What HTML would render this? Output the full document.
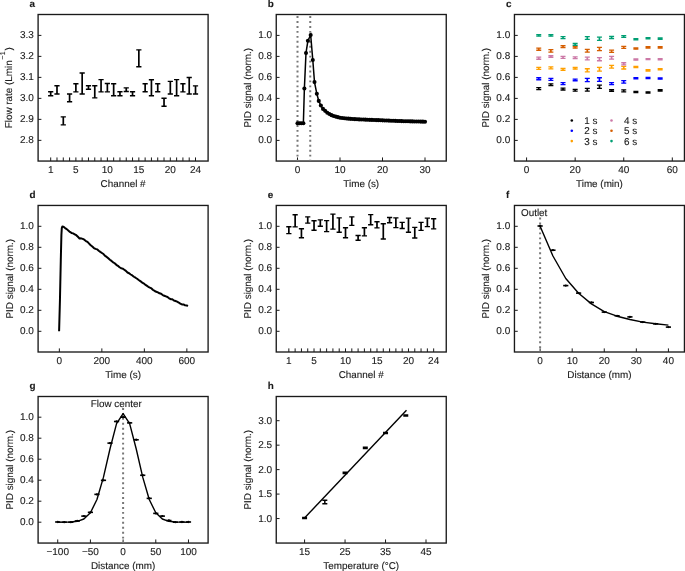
<!DOCTYPE html>
<html><head><meta charset="utf-8"><style>
html,body{margin:0;padding:0;background:#fff;}
svg{display:block;will-change:transform;}
text{font-family:"Liberation Sans",sans-serif;fill:#1a1a1a;stroke:#1a1a1a;stroke-width:0.12px;text-rendering:geometricPrecision;}
</style></head><body>
<svg width="685" height="571" viewBox="0 0 685 571">
<rect width="685" height="571" fill="#fff"/>
<rect x="38.1" y="14.5" width="170" height="146.55" fill="none" stroke="#1a1a1a" stroke-width="1.35"/>
<line x1="38.1" y1="140.35" x2="41.4" y2="140.35" stroke="#1a1a1a" stroke-width="1"/>
<text x="33.9" y="143.4" text-anchor="end" font-size="10">2.8</text>
<line x1="38.1" y1="119.36" x2="41.4" y2="119.36" stroke="#1a1a1a" stroke-width="1"/>
<text x="33.9" y="122.41" text-anchor="end" font-size="10">2.9</text>
<line x1="38.1" y1="98.37" x2="41.4" y2="98.37" stroke="#1a1a1a" stroke-width="1"/>
<text x="33.9" y="101.42" text-anchor="end" font-size="10">3.0</text>
<line x1="38.1" y1="77.38" x2="41.4" y2="77.38" stroke="#1a1a1a" stroke-width="1"/>
<text x="33.9" y="80.43" text-anchor="end" font-size="10">3.1</text>
<line x1="38.1" y1="56.39" x2="41.4" y2="56.39" stroke="#1a1a1a" stroke-width="1"/>
<text x="33.9" y="59.44" text-anchor="end" font-size="10">3.2</text>
<line x1="38.1" y1="35.4" x2="41.4" y2="35.4" stroke="#1a1a1a" stroke-width="1"/>
<text x="33.9" y="38.45" text-anchor="end" font-size="10">3.3</text>
<line x1="50.69" y1="161.05" x2="50.69" y2="157.45" stroke="#1a1a1a" stroke-width="1"/>
<line x1="56.99" y1="161.05" x2="56.99" y2="157.45" stroke="#1a1a1a" stroke-width="1"/>
<line x1="63.29" y1="161.05" x2="63.29" y2="157.45" stroke="#1a1a1a" stroke-width="1"/>
<line x1="69.58" y1="161.05" x2="69.58" y2="157.45" stroke="#1a1a1a" stroke-width="1"/>
<line x1="75.88" y1="161.05" x2="75.88" y2="157.45" stroke="#1a1a1a" stroke-width="1"/>
<line x1="82.17" y1="161.05" x2="82.17" y2="157.45" stroke="#1a1a1a" stroke-width="1"/>
<line x1="88.47" y1="161.05" x2="88.47" y2="157.45" stroke="#1a1a1a" stroke-width="1"/>
<line x1="94.77" y1="161.05" x2="94.77" y2="157.45" stroke="#1a1a1a" stroke-width="1"/>
<line x1="101.06" y1="161.05" x2="101.06" y2="157.45" stroke="#1a1a1a" stroke-width="1"/>
<line x1="107.36" y1="161.05" x2="107.36" y2="157.45" stroke="#1a1a1a" stroke-width="1"/>
<line x1="113.66" y1="161.05" x2="113.66" y2="157.45" stroke="#1a1a1a" stroke-width="1"/>
<line x1="119.95" y1="161.05" x2="119.95" y2="157.45" stroke="#1a1a1a" stroke-width="1"/>
<line x1="126.25" y1="161.05" x2="126.25" y2="157.45" stroke="#1a1a1a" stroke-width="1"/>
<line x1="132.54" y1="161.05" x2="132.54" y2="157.45" stroke="#1a1a1a" stroke-width="1"/>
<line x1="138.84" y1="161.05" x2="138.84" y2="157.45" stroke="#1a1a1a" stroke-width="1"/>
<line x1="145.14" y1="161.05" x2="145.14" y2="157.45" stroke="#1a1a1a" stroke-width="1"/>
<line x1="151.43" y1="161.05" x2="151.43" y2="157.45" stroke="#1a1a1a" stroke-width="1"/>
<line x1="157.73" y1="161.05" x2="157.73" y2="157.45" stroke="#1a1a1a" stroke-width="1"/>
<line x1="164.03" y1="161.05" x2="164.03" y2="157.45" stroke="#1a1a1a" stroke-width="1"/>
<line x1="170.32" y1="161.05" x2="170.32" y2="157.45" stroke="#1a1a1a" stroke-width="1"/>
<line x1="176.62" y1="161.05" x2="176.62" y2="157.45" stroke="#1a1a1a" stroke-width="1"/>
<line x1="182.91" y1="161.05" x2="182.91" y2="157.45" stroke="#1a1a1a" stroke-width="1"/>
<line x1="189.21" y1="161.05" x2="189.21" y2="157.45" stroke="#1a1a1a" stroke-width="1"/>
<line x1="195.51" y1="161.05" x2="195.51" y2="157.45" stroke="#1a1a1a" stroke-width="1"/>
<text x="50.69" y="172.7" text-anchor="middle" font-size="10">1</text>
<text x="75.88" y="172.7" text-anchor="middle" font-size="10">5</text>
<text x="107.36" y="172.7" text-anchor="middle" font-size="10">10</text>
<text x="138.84" y="172.7" text-anchor="middle" font-size="10">15</text>
<text x="170.32" y="172.7" text-anchor="middle" font-size="10">20</text>
<text x="195.51" y="172.7" text-anchor="middle" font-size="10">24</text>
<text x="123.1" y="187.05" text-anchor="middle" font-size="9.9">Channel #</text>
<text transform="translate(11.6,87.78) rotate(-90)" text-anchor="middle" font-size="9.9">Flow rate (Lmin<tspan font-size="7" dx="0.9" dy="-6.6">−1</tspan><tspan dx="0.9" dy="6.6">)</tspan></text>
<text x="29.6" y="7.3" font-size="9.9" font-weight="bold">a</text>
<path d="M50.69 95.8V91.7" stroke="#000" stroke-width="1.7"/>
<path d="M48.09 95.8h5.2M48.09 91.7h5.2" stroke="#000" stroke-width="1.4"/>
<path d="M56.99 94V85.7" stroke="#000" stroke-width="1.7"/>
<path d="M54.39 94h5.2M54.39 85.7h5.2" stroke="#000" stroke-width="1.4"/>
<path d="M63.29 124.9V116.9" stroke="#000" stroke-width="1.7"/>
<path d="M60.69 124.9h5.2M60.69 116.9h5.2" stroke="#000" stroke-width="1.4"/>
<path d="M69.58 101.8V94" stroke="#000" stroke-width="1.7"/>
<path d="M66.98 101.8h5.2M66.98 94h5.2" stroke="#000" stroke-width="1.4"/>
<path d="M75.88 91.9V83.8" stroke="#000" stroke-width="1.7"/>
<path d="M73.28 91.9h5.2M73.28 83.8h5.2" stroke="#000" stroke-width="1.4"/>
<path d="M82.17 94V73" stroke="#000" stroke-width="1.7"/>
<path d="M79.57 94h5.2M79.57 73h5.2" stroke="#000" stroke-width="1.4"/>
<path d="M88.47 89.2V85.7" stroke="#000" stroke-width="1.7"/>
<path d="M85.87 89.2h5.2M85.87 85.7h5.2" stroke="#000" stroke-width="1.4"/>
<path d="M94.77 97.9V85.7" stroke="#000" stroke-width="1.7"/>
<path d="M92.17 97.9h5.2M92.17 85.7h5.2" stroke="#000" stroke-width="1.4"/>
<path d="M101.06 91.9V79.6" stroke="#000" stroke-width="1.7"/>
<path d="M98.46 91.9h5.2M98.46 79.6h5.2" stroke="#000" stroke-width="1.4"/>
<path d="M107.36 91.9V83.5" stroke="#000" stroke-width="1.7"/>
<path d="M104.76 91.9h5.2M104.76 83.5h5.2" stroke="#000" stroke-width="1.4"/>
<path d="M113.66 95.8V83.8" stroke="#000" stroke-width="1.7"/>
<path d="M111.06 95.8h5.2M111.06 83.8h5.2" stroke="#000" stroke-width="1.4"/>
<path d="M119.95 95.8V91.7" stroke="#000" stroke-width="1.7"/>
<path d="M117.35 95.8h5.2M117.35 91.7h5.2" stroke="#000" stroke-width="1.4"/>
<path d="M126.25 91.5V87.9" stroke="#000" stroke-width="1.7"/>
<path d="M123.65 91.5h5.2M123.65 87.9h5.2" stroke="#000" stroke-width="1.4"/>
<path d="M132.54 95.7V91.8" stroke="#000" stroke-width="1.7"/>
<path d="M129.94 95.7h5.2M129.94 91.8h5.2" stroke="#000" stroke-width="1.4"/>
<path d="M138.84 66.8V49.9" stroke="#000" stroke-width="1.7"/>
<path d="M136.24 66.8h5.2M136.24 49.9h5.2" stroke="#000" stroke-width="1.4"/>
<path d="M145.14 91.8V83.7" stroke="#000" stroke-width="1.7"/>
<path d="M142.54 91.8h5.2M142.54 83.7h5.2" stroke="#000" stroke-width="1.4"/>
<path d="M151.43 95.7V79.8" stroke="#000" stroke-width="1.7"/>
<path d="M148.83 95.7h5.2M148.83 79.8h5.2" stroke="#000" stroke-width="1.4"/>
<path d="M157.73 91.8V83.7" stroke="#000" stroke-width="1.7"/>
<path d="M155.13 91.8h5.2M155.13 83.7h5.2" stroke="#000" stroke-width="1.4"/>
<path d="M164.03 106.3V98.2" stroke="#000" stroke-width="1.7"/>
<path d="M161.43 106.3h5.2M161.43 98.2h5.2" stroke="#000" stroke-width="1.4"/>
<path d="M170.32 94V81.4" stroke="#000" stroke-width="1.7"/>
<path d="M167.72 94h5.2M167.72 81.4h5.2" stroke="#000" stroke-width="1.4"/>
<path d="M176.62 95.8V79.6" stroke="#000" stroke-width="1.7"/>
<path d="M174.02 95.8h5.2M174.02 79.6h5.2" stroke="#000" stroke-width="1.4"/>
<path d="M182.91 91.9V83.8" stroke="#000" stroke-width="1.7"/>
<path d="M180.31 91.9h5.2M180.31 83.8h5.2" stroke="#000" stroke-width="1.4"/>
<path d="M189.21 94V77.5" stroke="#000" stroke-width="1.7"/>
<path d="M186.61 94h5.2M186.61 77.5h5.2" stroke="#000" stroke-width="1.4"/>
<path d="M195.51 94V85.9" stroke="#000" stroke-width="1.7"/>
<path d="M192.91 94h5.2M192.91 85.9h5.2" stroke="#000" stroke-width="1.4"/>
<rect x="276.25" y="14.5" width="170" height="146.55" fill="none" stroke="#1a1a1a" stroke-width="1.35"/>
<line x1="276.25" y1="140.4" x2="279.55" y2="140.4" stroke="#1a1a1a" stroke-width="1"/>
<text x="272.05" y="143.45" text-anchor="end" font-size="10">0.0</text>
<line x1="276.25" y1="119.4" x2="279.55" y2="119.4" stroke="#1a1a1a" stroke-width="1"/>
<text x="272.05" y="122.45" text-anchor="end" font-size="10">0.2</text>
<line x1="276.25" y1="98.4" x2="279.55" y2="98.4" stroke="#1a1a1a" stroke-width="1"/>
<text x="272.05" y="101.45" text-anchor="end" font-size="10">0.4</text>
<line x1="276.25" y1="77.4" x2="279.55" y2="77.4" stroke="#1a1a1a" stroke-width="1"/>
<text x="272.05" y="80.45" text-anchor="end" font-size="10">0.6</text>
<line x1="276.25" y1="56.4" x2="279.55" y2="56.4" stroke="#1a1a1a" stroke-width="1"/>
<text x="272.05" y="59.45" text-anchor="end" font-size="10">0.8</text>
<line x1="276.25" y1="35.4" x2="279.55" y2="35.4" stroke="#1a1a1a" stroke-width="1"/>
<text x="272.05" y="38.45" text-anchor="end" font-size="10">1.0</text>
<line x1="297.5" y1="161.05" x2="297.5" y2="157.45" stroke="#1a1a1a" stroke-width="1"/>
<line x1="340" y1="161.05" x2="340" y2="157.45" stroke="#1a1a1a" stroke-width="1"/>
<line x1="382.5" y1="161.05" x2="382.5" y2="157.45" stroke="#1a1a1a" stroke-width="1"/>
<line x1="425" y1="161.05" x2="425" y2="157.45" stroke="#1a1a1a" stroke-width="1"/>
<text x="297.5" y="172.7" text-anchor="middle" font-size="10">0</text>
<text x="340" y="172.7" text-anchor="middle" font-size="10">10</text>
<text x="382.5" y="172.7" text-anchor="middle" font-size="10">20</text>
<text x="425" y="172.7" text-anchor="middle" font-size="10">30</text>
<text x="361.25" y="187.05" text-anchor="middle" font-size="9.9">Time (s)</text>
<text transform="translate(251,87.78) rotate(-90)" text-anchor="middle" font-size="9.9">PID signal (norm.)</text>
<text x="267.75" y="7.3" font-size="9.9" font-weight="bold">b</text>
<line x1="297.5" y1="16.1" x2="297.5" y2="161.05" stroke="#777" stroke-width="2.0" stroke-dasharray="1.9 3.05"/>
<line x1="310.25" y1="16.1" x2="310.25" y2="161.05" stroke="#777" stroke-width="2.0" stroke-dasharray="1.9 3.05"/>
<path d="M297.5 123.18 L299.41 123.18 L301.32 123.18 L303.37 123.18 L304.38 88.53 L306 52.94 L307.91 40.76 L310.68 34.98 L312.8 59.97 L314.5 82.12 L316.84 93.78 L318.75 100.92 L320.88 105.54 L323 108.9 L325.12 110.84 L327.25 112.78 L329.38 113.96 L331.5 115.13 L333.62 116.05 L335.75 116.61 L337.88 117.16 L340 117.72 L342.12 117.96 L344.25 118.2 L346.38 118.44 L348.5 118.67 L350.62 118.85 L352.75 118.99 L354.88 119.13 L357 119.26 L359.12 119.4 L361.25 119.49 L363.38 119.57 L365.5 119.66 L367.62 119.74 L369.75 119.83 L371.88 119.92 L374 120 L376.12 120.09 L378.25 120.17 L380.38 120.26 L382.5 120.34 L384.62 120.43 L386.75 120.51 L388.88 120.6 L391 120.68 L393.12 120.77 L395.25 120.85 L397.38 120.93 L399.5 121.02 L401.62 121.1 L403.75 121.19 L405.88 121.24 L408 121.29 L410.12 121.34 L412.25 121.4 L414.38 121.45 L416.5 121.5 L418.62 121.55 L420.75 121.61 L422.88 121.66 L425 121.71" fill="none" stroke="#000" stroke-width="1.5"/>
<circle cx="297.5" cy="123.18" r="2.05"/>
<circle cx="299.41" cy="123.18" r="2.05"/>
<circle cx="301.32" cy="123.18" r="2.05"/>
<circle cx="303.37" cy="123.18" r="2.05"/>
<circle cx="304.38" cy="88.53" r="2.05"/>
<circle cx="306" cy="52.94" r="2.05"/>
<circle cx="307.91" cy="40.76" r="2.05"/>
<circle cx="310.68" cy="34.98" r="2.05"/>
<circle cx="312.8" cy="59.97" r="2.05"/>
<circle cx="314.5" cy="82.12" r="2.05"/>
<circle cx="316.84" cy="93.78" r="2.05"/>
<circle cx="318.75" cy="100.92" r="2.05"/>
<circle cx="320.88" cy="105.54" r="2.05"/>
<circle cx="323" cy="108.9" r="2.05"/>
<circle cx="325.12" cy="110.84" r="2.05"/>
<circle cx="327.25" cy="112.78" r="2.05"/>
<circle cx="329.38" cy="113.96" r="2.05"/>
<circle cx="331.5" cy="115.13" r="2.05"/>
<circle cx="333.62" cy="116.05" r="2.05"/>
<circle cx="335.75" cy="116.61" r="2.05"/>
<circle cx="337.88" cy="117.16" r="2.05"/>
<circle cx="340" cy="117.72" r="2.05"/>
<circle cx="342.12" cy="117.96" r="2.05"/>
<circle cx="344.25" cy="118.2" r="2.05"/>
<circle cx="346.38" cy="118.44" r="2.05"/>
<circle cx="348.5" cy="118.67" r="2.05"/>
<circle cx="350.62" cy="118.85" r="2.05"/>
<circle cx="352.75" cy="118.99" r="2.05"/>
<circle cx="354.88" cy="119.13" r="2.05"/>
<circle cx="357" cy="119.26" r="2.05"/>
<circle cx="359.12" cy="119.4" r="2.05"/>
<circle cx="361.25" cy="119.49" r="2.05"/>
<circle cx="363.38" cy="119.57" r="2.05"/>
<circle cx="365.5" cy="119.66" r="2.05"/>
<circle cx="367.62" cy="119.74" r="2.05"/>
<circle cx="369.75" cy="119.83" r="2.05"/>
<circle cx="371.88" cy="119.92" r="2.05"/>
<circle cx="374" cy="120" r="2.05"/>
<circle cx="376.12" cy="120.09" r="2.05"/>
<circle cx="378.25" cy="120.17" r="2.05"/>
<circle cx="380.38" cy="120.26" r="2.05"/>
<circle cx="382.5" cy="120.34" r="2.05"/>
<circle cx="384.62" cy="120.43" r="2.05"/>
<circle cx="386.75" cy="120.51" r="2.05"/>
<circle cx="388.88" cy="120.6" r="2.05"/>
<circle cx="391" cy="120.68" r="2.05"/>
<circle cx="393.12" cy="120.77" r="2.05"/>
<circle cx="395.25" cy="120.85" r="2.05"/>
<circle cx="397.38" cy="120.93" r="2.05"/>
<circle cx="399.5" cy="121.02" r="2.05"/>
<circle cx="401.62" cy="121.1" r="2.05"/>
<circle cx="403.75" cy="121.19" r="2.05"/>
<circle cx="405.88" cy="121.24" r="2.05"/>
<circle cx="408" cy="121.29" r="2.05"/>
<circle cx="410.12" cy="121.34" r="2.05"/>
<circle cx="412.25" cy="121.4" r="2.05"/>
<circle cx="414.38" cy="121.45" r="2.05"/>
<circle cx="416.5" cy="121.5" r="2.05"/>
<circle cx="418.62" cy="121.55" r="2.05"/>
<circle cx="420.75" cy="121.61" r="2.05"/>
<circle cx="422.88" cy="121.66" r="2.05"/>
<circle cx="425" cy="121.71" r="2.05"/>
<rect x="514.45" y="14.5" width="170" height="146.55" fill="none" stroke="#1a1a1a" stroke-width="1.35"/>
<line x1="514.45" y1="140.4" x2="517.75" y2="140.4" stroke="#1a1a1a" stroke-width="1"/>
<text x="510.25" y="143.45" text-anchor="end" font-size="10">0.0</text>
<line x1="514.45" y1="119.4" x2="517.75" y2="119.4" stroke="#1a1a1a" stroke-width="1"/>
<text x="510.25" y="122.45" text-anchor="end" font-size="10">0.2</text>
<line x1="514.45" y1="98.4" x2="517.75" y2="98.4" stroke="#1a1a1a" stroke-width="1"/>
<text x="510.25" y="101.45" text-anchor="end" font-size="10">0.4</text>
<line x1="514.45" y1="77.4" x2="517.75" y2="77.4" stroke="#1a1a1a" stroke-width="1"/>
<text x="510.25" y="80.45" text-anchor="end" font-size="10">0.6</text>
<line x1="514.45" y1="56.4" x2="517.75" y2="56.4" stroke="#1a1a1a" stroke-width="1"/>
<text x="510.25" y="59.45" text-anchor="end" font-size="10">0.8</text>
<line x1="514.45" y1="35.4" x2="517.75" y2="35.4" stroke="#1a1a1a" stroke-width="1"/>
<text x="510.25" y="38.45" text-anchor="end" font-size="10">1.0</text>
<line x1="526.59" y1="161.05" x2="526.59" y2="157.45" stroke="#1a1a1a" stroke-width="1"/>
<line x1="575.16" y1="161.05" x2="575.16" y2="157.45" stroke="#1a1a1a" stroke-width="1"/>
<line x1="623.74" y1="161.05" x2="623.74" y2="157.45" stroke="#1a1a1a" stroke-width="1"/>
<line x1="672.31" y1="161.05" x2="672.31" y2="157.45" stroke="#1a1a1a" stroke-width="1"/>
<text x="526.59" y="172.7" text-anchor="middle" font-size="10">0</text>
<text x="575.16" y="172.7" text-anchor="middle" font-size="10">20</text>
<text x="623.74" y="172.7" text-anchor="middle" font-size="10">40</text>
<text x="672.31" y="172.7" text-anchor="middle" font-size="10">60</text>
<text x="599.45" y="187.05" text-anchor="middle" font-size="9.9">Time (min)</text>
<text transform="translate(489.2,87.78) rotate(-90)" text-anchor="middle" font-size="9.9">PID signal (norm.)</text>
<text x="505.95" y="7.3" font-size="9.9" font-weight="bold">c</text>
<path d="M538.74 89.59V87.69" stroke="#000000" stroke-width="1.7"/>
<path d="M536.24 89.59h5M536.24 87.69h5" stroke="#000000" stroke-width="1.3"/>
<path d="M550.88 85.7V83.8" stroke="#000000" stroke-width="1.7"/>
<path d="M548.38 85.7h5M548.38 83.8h5" stroke="#000000" stroke-width="1.3"/>
<path d="M563.02 90.01V88.11" stroke="#000000" stroke-width="1.7"/>
<path d="M560.52 90.01h5M560.52 88.11h5" stroke="#000000" stroke-width="1.3"/>
<path d="M575.16 91.16V89.47" stroke="#000000" stroke-width="1.7"/>
<path d="M572.66 91.16h5M572.66 89.47h5" stroke="#000000" stroke-width="1.3"/>
<path d="M587.31 91.03V88.34" stroke="#000000" stroke-width="1.7"/>
<path d="M584.81 91.03h5M584.81 88.34h5" stroke="#000000" stroke-width="1.3"/>
<path d="M599.45 88.34V85.15" stroke="#000000" stroke-width="1.7"/>
<path d="M596.95 88.34h5M596.95 85.15h5" stroke="#000000" stroke-width="1.3"/>
<path d="M611.59 91.27V89.57" stroke="#000000" stroke-width="1.7"/>
<path d="M609.09 91.27h5M609.09 89.57h5" stroke="#000000" stroke-width="1.3"/>
<path d="M623.74 91.84V89.84" stroke="#000000" stroke-width="1.7"/>
<path d="M621.24 91.84h5M621.24 89.84h5" stroke="#000000" stroke-width="1.3"/>
<path d="M635.88 92.7V91.5" stroke="#000000" stroke-width="1.7"/>
<path d="M633.38 92.7h5M633.38 91.5h5" stroke="#000000" stroke-width="1.3"/>
<path d="M648.02 93.02V91.82" stroke="#000000" stroke-width="1.7"/>
<path d="M645.52 93.02h5M645.52 91.82h5" stroke="#000000" stroke-width="1.3"/>
<path d="M660.16 91.07V89.77" stroke="#000000" stroke-width="1.7"/>
<path d="M657.66 91.07h5M657.66 89.77h5" stroke="#000000" stroke-width="1.3"/>
<path d="M538.74 79.77V77.77" stroke="#0000ff" stroke-width="1.7"/>
<path d="M536.24 79.77h5M536.24 77.77h5" stroke="#0000ff" stroke-width="1.3"/>
<path d="M550.88 80.29V78.29" stroke="#0000ff" stroke-width="1.7"/>
<path d="M548.38 80.29h5M548.38 78.29h5" stroke="#0000ff" stroke-width="1.3"/>
<path d="M563.02 84.59V82.59" stroke="#0000ff" stroke-width="1.7"/>
<path d="M560.52 84.59h5M560.52 82.59h5" stroke="#0000ff" stroke-width="1.3"/>
<path d="M575.16 80.77V79.07" stroke="#0000ff" stroke-width="1.7"/>
<path d="M572.66 80.77h5M572.66 79.07h5" stroke="#0000ff" stroke-width="1.3"/>
<path d="M587.31 81.62V78.43" stroke="#0000ff" stroke-width="1.7"/>
<path d="M584.81 81.62h5M584.81 78.43h5" stroke="#0000ff" stroke-width="1.3"/>
<path d="M599.45 81.46V77.76" stroke="#0000ff" stroke-width="1.7"/>
<path d="M596.95 81.46h5M596.95 77.76h5" stroke="#0000ff" stroke-width="1.3"/>
<path d="M611.59 84.59V82.59" stroke="#0000ff" stroke-width="1.7"/>
<path d="M609.09 84.59h5M609.09 82.59h5" stroke="#0000ff" stroke-width="1.3"/>
<path d="M623.74 83.06V80.56" stroke="#0000ff" stroke-width="1.7"/>
<path d="M621.24 83.06h5M621.24 80.56h5" stroke="#0000ff" stroke-width="1.3"/>
<path d="M635.88 78.84V77.64" stroke="#0000ff" stroke-width="1.7"/>
<path d="M633.38 78.84h5M633.38 77.64h5" stroke="#0000ff" stroke-width="1.3"/>
<path d="M648.02 78.48V77.38" stroke="#0000ff" stroke-width="1.7"/>
<path d="M645.52 78.48h5M645.52 77.38h5" stroke="#0000ff" stroke-width="1.3"/>
<path d="M660.16 79.21V77.91" stroke="#0000ff" stroke-width="1.7"/>
<path d="M657.66 79.21h5M657.66 77.91h5" stroke="#0000ff" stroke-width="1.3"/>
<path d="M538.74 69.32V67.42" stroke="#ffa000" stroke-width="1.7"/>
<path d="M536.24 69.32h5M536.24 67.42h5" stroke="#ffa000" stroke-width="1.3"/>
<path d="M550.88 68.8V66.9" stroke="#ffa000" stroke-width="1.7"/>
<path d="M548.38 68.8h5M548.38 66.9h5" stroke="#ffa000" stroke-width="1.3"/>
<path d="M563.02 70.27V68.36" stroke="#ffa000" stroke-width="1.7"/>
<path d="M560.52 70.27h5M560.52 68.36h5" stroke="#ffa000" stroke-width="1.3"/>
<path d="M575.16 69.22V67.52" stroke="#ffa000" stroke-width="1.7"/>
<path d="M572.66 69.22h5M572.66 67.52h5" stroke="#ffa000" stroke-width="1.3"/>
<path d="M587.31 71.96V68.77" stroke="#ffa000" stroke-width="1.7"/>
<path d="M584.81 71.96h5M584.81 68.77h5" stroke="#ffa000" stroke-width="1.3"/>
<path d="M599.45 71.16V67.47" stroke="#ffa000" stroke-width="1.7"/>
<path d="M596.95 71.16h5M596.95 67.47h5" stroke="#ffa000" stroke-width="1.3"/>
<path d="M611.59 68.04V65.34" stroke="#ffa000" stroke-width="1.7"/>
<path d="M609.09 68.04h5M609.09 65.34h5" stroke="#ffa000" stroke-width="1.3"/>
<path d="M623.74 68.98V66.29" stroke="#ffa000" stroke-width="1.7"/>
<path d="M621.24 68.98h5M621.24 66.29h5" stroke="#ffa000" stroke-width="1.3"/>
<path d="M635.88 67.61V66.41" stroke="#ffa000" stroke-width="1.7"/>
<path d="M633.38 67.61h5M633.38 66.41h5" stroke="#ffa000" stroke-width="1.3"/>
<path d="M648.02 71.02V69.71" stroke="#ffa000" stroke-width="1.7"/>
<path d="M645.52 71.02h5M645.52 69.71h5" stroke="#ffa000" stroke-width="1.3"/>
<path d="M660.16 69.86V68.56" stroke="#ffa000" stroke-width="1.7"/>
<path d="M657.66 69.86h5M657.66 68.56h5" stroke="#ffa000" stroke-width="1.3"/>
<path d="M538.74 59.23V57.14" stroke="#cc79a7" stroke-width="1.7"/>
<path d="M536.24 59.23h5M536.24 57.14h5" stroke="#cc79a7" stroke-width="1.3"/>
<path d="M550.88 57.25V55.55" stroke="#cc79a7" stroke-width="1.7"/>
<path d="M548.38 57.25h5M548.38 55.55h5" stroke="#cc79a7" stroke-width="1.3"/>
<path d="M563.02 58.3V56.39" stroke="#cc79a7" stroke-width="1.7"/>
<path d="M560.52 58.3h5M560.52 56.39h5" stroke="#cc79a7" stroke-width="1.3"/>
<path d="M575.16 58.62V56.91" stroke="#cc79a7" stroke-width="1.7"/>
<path d="M572.66 58.62h5M572.66 56.91h5" stroke="#cc79a7" stroke-width="1.3"/>
<path d="M587.31 59.85V57.15" stroke="#cc79a7" stroke-width="1.7"/>
<path d="M584.81 59.85h5M584.81 57.15h5" stroke="#cc79a7" stroke-width="1.3"/>
<path d="M599.45 60.73V57.53" stroke="#cc79a7" stroke-width="1.7"/>
<path d="M596.95 60.73h5M596.95 57.53h5" stroke="#cc79a7" stroke-width="1.3"/>
<path d="M611.59 59.12V56.41" stroke="#cc79a7" stroke-width="1.7"/>
<path d="M609.09 59.12h5M609.09 56.41h5" stroke="#cc79a7" stroke-width="1.3"/>
<path d="M623.74 64.95V62.76" stroke="#cc79a7" stroke-width="1.7"/>
<path d="M621.24 64.95h5M621.24 62.76h5" stroke="#cc79a7" stroke-width="1.3"/>
<path d="M635.88 60.15V58.95" stroke="#cc79a7" stroke-width="1.7"/>
<path d="M633.38 60.15h5M633.38 58.95h5" stroke="#cc79a7" stroke-width="1.3"/>
<path d="M648.02 59.68V58.58" stroke="#cc79a7" stroke-width="1.7"/>
<path d="M645.52 59.68h5M645.52 58.58h5" stroke="#cc79a7" stroke-width="1.3"/>
<path d="M660.16 59.88V58.59" stroke="#cc79a7" stroke-width="1.7"/>
<path d="M657.66 59.88h5M657.66 58.59h5" stroke="#cc79a7" stroke-width="1.3"/>
<path d="M538.74 50.26V48.05" stroke="#d55e00" stroke-width="1.7"/>
<path d="M536.24 50.26h5M536.24 48.05h5" stroke="#d55e00" stroke-width="1.3"/>
<path d="M550.88 52.19V49.69" stroke="#d55e00" stroke-width="1.7"/>
<path d="M548.38 52.19h5M548.38 49.69h5" stroke="#d55e00" stroke-width="1.3"/>
<path d="M563.02 47.48V45.58" stroke="#d55e00" stroke-width="1.7"/>
<path d="M560.52 47.48h5M560.52 45.58h5" stroke="#d55e00" stroke-width="1.3"/>
<path d="M575.16 48.22V46.52" stroke="#d55e00" stroke-width="1.7"/>
<path d="M572.66 48.22h5M572.66 46.52h5" stroke="#d55e00" stroke-width="1.3"/>
<path d="M587.31 52.08V49.38" stroke="#d55e00" stroke-width="1.7"/>
<path d="M584.81 52.08h5M584.81 49.38h5" stroke="#d55e00" stroke-width="1.3"/>
<path d="M599.45 50.55V47.35" stroke="#d55e00" stroke-width="1.7"/>
<path d="M596.95 50.55h5M596.95 47.35h5" stroke="#d55e00" stroke-width="1.3"/>
<path d="M611.59 52.36V50.16" stroke="#d55e00" stroke-width="1.7"/>
<path d="M609.09 52.36h5M609.09 50.16h5" stroke="#d55e00" stroke-width="1.3"/>
<path d="M623.74 48.42V46.32" stroke="#d55e00" stroke-width="1.7"/>
<path d="M621.24 48.42h5M621.24 46.32h5" stroke="#d55e00" stroke-width="1.3"/>
<path d="M635.88 49.18V47.88" stroke="#d55e00" stroke-width="1.7"/>
<path d="M633.38 49.18h5M633.38 47.88h5" stroke="#d55e00" stroke-width="1.3"/>
<path d="M648.02 48.02V46.72" stroke="#d55e00" stroke-width="1.7"/>
<path d="M645.52 48.02h5M645.52 46.72h5" stroke="#d55e00" stroke-width="1.3"/>
<path d="M660.16 48.02V46.72" stroke="#d55e00" stroke-width="1.7"/>
<path d="M657.66 48.02h5M657.66 46.72h5" stroke="#d55e00" stroke-width="1.3"/>
<path d="M538.74 36.2V34.6" stroke="#009e73" stroke-width="1.7"/>
<path d="M536.24 36.2h5M536.24 34.6h5" stroke="#009e73" stroke-width="1.3"/>
<path d="M550.88 36.2V34.6" stroke="#009e73" stroke-width="1.7"/>
<path d="M548.38 36.2h5M548.38 34.6h5" stroke="#009e73" stroke-width="1.3"/>
<path d="M563.02 38.56V36.66" stroke="#009e73" stroke-width="1.7"/>
<path d="M560.52 38.56h5M560.52 36.66h5" stroke="#009e73" stroke-width="1.3"/>
<path d="M575.16 45.38V43.48" stroke="#009e73" stroke-width="1.7"/>
<path d="M572.66 45.38h5M572.66 43.48h5" stroke="#009e73" stroke-width="1.3"/>
<path d="M587.31 39.38V36.68" stroke="#009e73" stroke-width="1.7"/>
<path d="M584.81 39.38h5M584.81 36.68h5" stroke="#009e73" stroke-width="1.3"/>
<path d="M599.45 40.36V37.16" stroke="#009e73" stroke-width="1.7"/>
<path d="M596.95 40.36h5M596.95 37.16h5" stroke="#009e73" stroke-width="1.3"/>
<path d="M611.59 38.5V36.3" stroke="#009e73" stroke-width="1.7"/>
<path d="M609.09 38.5h5M609.09 36.3h5" stroke="#009e73" stroke-width="1.3"/>
<path d="M623.74 37.3V35.6" stroke="#009e73" stroke-width="1.7"/>
<path d="M621.24 37.3h5M621.24 35.6h5" stroke="#009e73" stroke-width="1.3"/>
<path d="M635.88 39.83V38.53" stroke="#009e73" stroke-width="1.7"/>
<path d="M633.38 39.83h5M633.38 38.53h5" stroke="#009e73" stroke-width="1.3"/>
<path d="M648.02 38.89V37.59" stroke="#009e73" stroke-width="1.7"/>
<path d="M645.52 38.89h5M645.52 37.59h5" stroke="#009e73" stroke-width="1.3"/>
<path d="M660.16 39.31V38.01" stroke="#009e73" stroke-width="1.7"/>
<path d="M657.66 39.31h5M657.66 38.01h5" stroke="#009e73" stroke-width="1.3"/>
<circle cx="571.8" cy="120.5" r="1.3" fill="#000000"/>
<text x="584.3" y="124" font-size="9.9">1 s</text>
<circle cx="571.8" cy="130.8" r="1.3" fill="#0000ff"/>
<text x="584.3" y="134.3" font-size="9.9">2 s</text>
<circle cx="571.8" cy="141.1" r="1.3" fill="#ffa000"/>
<text x="584.3" y="144.6" font-size="9.9">3 s</text>
<circle cx="611.5" cy="120.5" r="1.3" fill="#cc79a7"/>
<text x="623.9" y="124" font-size="9.9">4 s</text>
<circle cx="611.5" cy="130.8" r="1.3" fill="#d55e00"/>
<text x="623.9" y="134.3" font-size="9.9">5 s</text>
<circle cx="611.5" cy="141.1" r="1.3" fill="#009e73"/>
<text x="623.9" y="144.6" font-size="9.9">6 s</text>
<rect x="38.1" y="205.45" width="170" height="146.55" fill="none" stroke="#1a1a1a" stroke-width="1.35"/>
<line x1="38.1" y1="331.3" x2="41.4" y2="331.3" stroke="#1a1a1a" stroke-width="1"/>
<text x="33.9" y="334.35" text-anchor="end" font-size="10">0.0</text>
<line x1="38.1" y1="310.3" x2="41.4" y2="310.3" stroke="#1a1a1a" stroke-width="1"/>
<text x="33.9" y="313.35" text-anchor="end" font-size="10">0.2</text>
<line x1="38.1" y1="289.3" x2="41.4" y2="289.3" stroke="#1a1a1a" stroke-width="1"/>
<text x="33.9" y="292.35" text-anchor="end" font-size="10">0.4</text>
<line x1="38.1" y1="268.3" x2="41.4" y2="268.3" stroke="#1a1a1a" stroke-width="1"/>
<text x="33.9" y="271.35" text-anchor="end" font-size="10">0.6</text>
<line x1="38.1" y1="247.3" x2="41.4" y2="247.3" stroke="#1a1a1a" stroke-width="1"/>
<text x="33.9" y="250.35" text-anchor="end" font-size="10">0.8</text>
<line x1="38.1" y1="226.3" x2="41.4" y2="226.3" stroke="#1a1a1a" stroke-width="1"/>
<text x="33.9" y="229.35" text-anchor="end" font-size="10">1.0</text>
<line x1="59.35" y1="352" x2="59.35" y2="348.4" stroke="#1a1a1a" stroke-width="1"/>
<line x1="101.85" y1="352" x2="101.85" y2="348.4" stroke="#1a1a1a" stroke-width="1"/>
<line x1="144.35" y1="352" x2="144.35" y2="348.4" stroke="#1a1a1a" stroke-width="1"/>
<line x1="186.85" y1="352" x2="186.85" y2="348.4" stroke="#1a1a1a" stroke-width="1"/>
<text x="59.35" y="363.65" text-anchor="middle" font-size="10">0</text>
<text x="101.85" y="363.65" text-anchor="middle" font-size="10">200</text>
<text x="144.35" y="363.65" text-anchor="middle" font-size="10">400</text>
<text x="186.85" y="363.65" text-anchor="middle" font-size="10">600</text>
<text x="123.1" y="378" text-anchor="middle" font-size="9.9">Time (s)</text>
<text transform="translate(12.85,278.73) rotate(-90)" text-anchor="middle" font-size="9.9">PID signal (norm.)</text>
<text x="29.6" y="198.25" font-size="9.9" font-weight="bold">d</text>
<path d="M59.1 331.3 L59.95 300 L60.8 260 L61.4 235 L61.8 228 L62.3 226.6 L63.5 226.72 L65.1 228.09 L66.7 229.12 L68.3 230.59 L69.9 231.96 L71.5 232.93 L73.1 233.36 L74.7 234.27 L76.3 235.23 L77.9 236.81 L79.5 238.45 L81.1 238.36 L82.7 238.9 L84.3 239.73 L85.9 241.05 L87.5 241.91 L89.1 243.64 L90.7 245.31 L92.3 246.58 L93.9 248.05 L95.5 248.89 L97.1 249.36 L98.7 250.76 L100.3 251.9 L101.9 252.96 L103.5 254.03 L105.1 255.88 L106.7 256.89 L108.3 258.34 L109.9 259.74 L111.5 260.91 L113.1 262.33 L114.7 263.25 L116.3 264.81 L117.9 265.84 L119.5 267.25 L121.1 268.21 L122.7 268.66 L124.3 269.73 L125.9 270.88 L127.5 272.51 L129.1 273.24 L130.7 274.5 L132.3 275.43 L133.9 276.73 L135.5 277.72 L137.1 278.76 L138.7 279.99 L140.3 281.06 L141.9 282.35 L143.5 283.28 L145.1 284.56 L146.7 285.61 L148.3 286.8 L149.9 287.68 L151.5 288.42 L153.1 290.01 L154.7 290.98 L156.3 291.73 L157.9 292.34 L159.5 293.29 L161.1 293.79 L162.7 295.07 L164.3 295.74 L165.9 296.39 L167.5 297 L169.1 298.31 L170.7 299.16 L172.3 299.28 L173.9 300.52 L175.5 301 L177.1 301.61 L178.7 302.51 L180.3 303.64 L181.9 304.46 L183.5 304.41 L185.1 305.35 L186.7 305.48 L187.9 306.2" fill="none" stroke="#000" stroke-width="2.0" stroke-linejoin="round"/>
<rect x="276.25" y="205.45" width="170" height="146.55" fill="none" stroke="#1a1a1a" stroke-width="1.35"/>
<line x1="276.25" y1="331.3" x2="279.55" y2="331.3" stroke="#1a1a1a" stroke-width="1"/>
<text x="272.05" y="334.35" text-anchor="end" font-size="10">0.0</text>
<line x1="276.25" y1="310.3" x2="279.55" y2="310.3" stroke="#1a1a1a" stroke-width="1"/>
<text x="272.05" y="313.35" text-anchor="end" font-size="10">0.2</text>
<line x1="276.25" y1="289.3" x2="279.55" y2="289.3" stroke="#1a1a1a" stroke-width="1"/>
<text x="272.05" y="292.35" text-anchor="end" font-size="10">0.4</text>
<line x1="276.25" y1="268.3" x2="279.55" y2="268.3" stroke="#1a1a1a" stroke-width="1"/>
<text x="272.05" y="271.35" text-anchor="end" font-size="10">0.6</text>
<line x1="276.25" y1="247.3" x2="279.55" y2="247.3" stroke="#1a1a1a" stroke-width="1"/>
<text x="272.05" y="250.35" text-anchor="end" font-size="10">0.8</text>
<line x1="276.25" y1="226.3" x2="279.55" y2="226.3" stroke="#1a1a1a" stroke-width="1"/>
<text x="272.05" y="229.35" text-anchor="end" font-size="10">1.0</text>
<line x1="288.84" y1="352" x2="288.84" y2="348.4" stroke="#1a1a1a" stroke-width="1"/>
<line x1="295.14" y1="352" x2="295.14" y2="348.4" stroke="#1a1a1a" stroke-width="1"/>
<line x1="301.44" y1="352" x2="301.44" y2="348.4" stroke="#1a1a1a" stroke-width="1"/>
<line x1="307.73" y1="352" x2="307.73" y2="348.4" stroke="#1a1a1a" stroke-width="1"/>
<line x1="314.03" y1="352" x2="314.03" y2="348.4" stroke="#1a1a1a" stroke-width="1"/>
<line x1="320.32" y1="352" x2="320.32" y2="348.4" stroke="#1a1a1a" stroke-width="1"/>
<line x1="326.62" y1="352" x2="326.62" y2="348.4" stroke="#1a1a1a" stroke-width="1"/>
<line x1="332.92" y1="352" x2="332.92" y2="348.4" stroke="#1a1a1a" stroke-width="1"/>
<line x1="339.21" y1="352" x2="339.21" y2="348.4" stroke="#1a1a1a" stroke-width="1"/>
<line x1="345.51" y1="352" x2="345.51" y2="348.4" stroke="#1a1a1a" stroke-width="1"/>
<line x1="351.81" y1="352" x2="351.81" y2="348.4" stroke="#1a1a1a" stroke-width="1"/>
<line x1="358.1" y1="352" x2="358.1" y2="348.4" stroke="#1a1a1a" stroke-width="1"/>
<line x1="364.4" y1="352" x2="364.4" y2="348.4" stroke="#1a1a1a" stroke-width="1"/>
<line x1="370.69" y1="352" x2="370.69" y2="348.4" stroke="#1a1a1a" stroke-width="1"/>
<line x1="376.99" y1="352" x2="376.99" y2="348.4" stroke="#1a1a1a" stroke-width="1"/>
<line x1="383.29" y1="352" x2="383.29" y2="348.4" stroke="#1a1a1a" stroke-width="1"/>
<line x1="389.58" y1="352" x2="389.58" y2="348.4" stroke="#1a1a1a" stroke-width="1"/>
<line x1="395.88" y1="352" x2="395.88" y2="348.4" stroke="#1a1a1a" stroke-width="1"/>
<line x1="402.18" y1="352" x2="402.18" y2="348.4" stroke="#1a1a1a" stroke-width="1"/>
<line x1="408.47" y1="352" x2="408.47" y2="348.4" stroke="#1a1a1a" stroke-width="1"/>
<line x1="414.77" y1="352" x2="414.77" y2="348.4" stroke="#1a1a1a" stroke-width="1"/>
<line x1="421.06" y1="352" x2="421.06" y2="348.4" stroke="#1a1a1a" stroke-width="1"/>
<line x1="427.36" y1="352" x2="427.36" y2="348.4" stroke="#1a1a1a" stroke-width="1"/>
<line x1="433.66" y1="352" x2="433.66" y2="348.4" stroke="#1a1a1a" stroke-width="1"/>
<text x="288.84" y="363.65" text-anchor="middle" font-size="10">1</text>
<text x="314.03" y="363.65" text-anchor="middle" font-size="10">5</text>
<text x="345.51" y="363.65" text-anchor="middle" font-size="10">10</text>
<text x="376.99" y="363.65" text-anchor="middle" font-size="10">15</text>
<text x="408.47" y="363.65" text-anchor="middle" font-size="10">20</text>
<text x="433.66" y="363.65" text-anchor="middle" font-size="10">24</text>
<text x="361.25" y="378" text-anchor="middle" font-size="9.9">Channel #</text>
<text transform="translate(251,278.73) rotate(-90)" text-anchor="middle" font-size="9.9">PID signal (norm.)</text>
<text x="267.75" y="198.25" font-size="9.9" font-weight="bold">e</text>
<path d="M288.84 233.6V226.7" stroke="#000" stroke-width="1.7"/>
<path d="M286.24 233.6h5.2M286.24 226.7h5.2" stroke="#000" stroke-width="1.4"/>
<path d="M295.14 226.9V214.7" stroke="#000" stroke-width="1.7"/>
<path d="M292.54 226.9h5.2M292.54 214.7h5.2" stroke="#000" stroke-width="1.4"/>
<path d="M301.44 237.8V228.8" stroke="#000" stroke-width="1.7"/>
<path d="M298.84 237.8h5.2M298.84 228.8h5.2" stroke="#000" stroke-width="1.4"/>
<path d="M307.73 223.1V216.9" stroke="#000" stroke-width="1.7"/>
<path d="M305.13 223.1h5.2M305.13 216.9h5.2" stroke="#000" stroke-width="1.4"/>
<path d="M314.03 230.2V220.8" stroke="#000" stroke-width="1.7"/>
<path d="M311.43 230.2h5.2M311.43 220.8h5.2" stroke="#000" stroke-width="1.4"/>
<path d="M320.32 226.2V219.9" stroke="#000" stroke-width="1.7"/>
<path d="M317.72 226.2h5.2M317.72 219.9h5.2" stroke="#000" stroke-width="1.4"/>
<path d="M326.62 231.6V220.6" stroke="#000" stroke-width="1.7"/>
<path d="M324.02 231.6h5.2M324.02 220.6h5.2" stroke="#000" stroke-width="1.4"/>
<path d="M332.92 229.1V214.1" stroke="#000" stroke-width="1.7"/>
<path d="M330.32 229.1h5.2M330.32 214.1h5.2" stroke="#000" stroke-width="1.4"/>
<path d="M339.21 232.2V217.9" stroke="#000" stroke-width="1.7"/>
<path d="M336.61 232.2h5.2M336.61 217.9h5.2" stroke="#000" stroke-width="1.4"/>
<path d="M345.51 237.8V227.8" stroke="#000" stroke-width="1.7"/>
<path d="M342.91 237.8h5.2M342.91 227.8h5.2" stroke="#000" stroke-width="1.4"/>
<path d="M351.81 225.4V216.9" stroke="#000" stroke-width="1.7"/>
<path d="M349.21 225.4h5.2M349.21 216.9h5.2" stroke="#000" stroke-width="1.4"/>
<path d="M358.1 240.3V235.5" stroke="#000" stroke-width="1.7"/>
<path d="M355.5 240.3h5.2M355.5 235.5h5.2" stroke="#000" stroke-width="1.4"/>
<path d="M364.4 235.9V227.8" stroke="#000" stroke-width="1.7"/>
<path d="M361.8 235.9h5.2M361.8 227.8h5.2" stroke="#000" stroke-width="1.4"/>
<path d="M370.69 224.8V214.6" stroke="#000" stroke-width="1.7"/>
<path d="M368.09 224.8h5.2M368.09 214.6h5.2" stroke="#000" stroke-width="1.4"/>
<path d="M376.99 227.9V221.8" stroke="#000" stroke-width="1.7"/>
<path d="M374.39 227.9h5.2M374.39 221.8h5.2" stroke="#000" stroke-width="1.4"/>
<path d="M383.29 239V223.7" stroke="#000" stroke-width="1.7"/>
<path d="M380.69 239h5.2M380.69 223.7h5.2" stroke="#000" stroke-width="1.4"/>
<path d="M389.58 222.7V217.5" stroke="#000" stroke-width="1.7"/>
<path d="M386.98 222.7h5.2M386.98 217.5h5.2" stroke="#000" stroke-width="1.4"/>
<path d="M395.88 227.6V217.9" stroke="#000" stroke-width="1.7"/>
<path d="M393.28 227.6h5.2M393.28 217.9h5.2" stroke="#000" stroke-width="1.4"/>
<path d="M402.18 228.5V222.4" stroke="#000" stroke-width="1.7"/>
<path d="M399.58 228.5h5.2M399.58 222.4h5.2" stroke="#000" stroke-width="1.4"/>
<path d="M408.47 232.2V218.1" stroke="#000" stroke-width="1.7"/>
<path d="M405.87 232.2h5.2M405.87 218.1h5.2" stroke="#000" stroke-width="1.4"/>
<path d="M414.77 238V227.4" stroke="#000" stroke-width="1.7"/>
<path d="M412.17 238h5.2M412.17 227.4h5.2" stroke="#000" stroke-width="1.4"/>
<path d="M421.06 230.4V222.4" stroke="#000" stroke-width="1.7"/>
<path d="M418.46 230.4h5.2M418.46 222.4h5.2" stroke="#000" stroke-width="1.4"/>
<path d="M427.36 226.6V218.1" stroke="#000" stroke-width="1.7"/>
<path d="M424.76 226.6h5.2M424.76 218.1h5.2" stroke="#000" stroke-width="1.4"/>
<path d="M433.66 228.9V218.7" stroke="#000" stroke-width="1.7"/>
<path d="M431.06 228.9h5.2M431.06 218.7h5.2" stroke="#000" stroke-width="1.4"/>
<rect x="514.45" y="205.45" width="170" height="146.55" fill="none" stroke="#1a1a1a" stroke-width="1.35"/>
<line x1="514.45" y1="331.3" x2="517.75" y2="331.3" stroke="#1a1a1a" stroke-width="1"/>
<text x="510.25" y="334.35" text-anchor="end" font-size="10">0.0</text>
<line x1="514.45" y1="310.3" x2="517.75" y2="310.3" stroke="#1a1a1a" stroke-width="1"/>
<text x="510.25" y="313.35" text-anchor="end" font-size="10">0.2</text>
<line x1="514.45" y1="289.3" x2="517.75" y2="289.3" stroke="#1a1a1a" stroke-width="1"/>
<text x="510.25" y="292.35" text-anchor="end" font-size="10">0.4</text>
<line x1="514.45" y1="268.3" x2="517.75" y2="268.3" stroke="#1a1a1a" stroke-width="1"/>
<text x="510.25" y="271.35" text-anchor="end" font-size="10">0.6</text>
<line x1="514.45" y1="247.3" x2="517.75" y2="247.3" stroke="#1a1a1a" stroke-width="1"/>
<text x="510.25" y="250.35" text-anchor="end" font-size="10">0.8</text>
<line x1="514.45" y1="226.3" x2="517.75" y2="226.3" stroke="#1a1a1a" stroke-width="1"/>
<text x="510.25" y="229.35" text-anchor="end" font-size="10">1.0</text>
<line x1="540.11" y1="352" x2="540.11" y2="348.4" stroke="#1a1a1a" stroke-width="1"/>
<line x1="572.19" y1="352" x2="572.19" y2="348.4" stroke="#1a1a1a" stroke-width="1"/>
<line x1="604.26" y1="352" x2="604.26" y2="348.4" stroke="#1a1a1a" stroke-width="1"/>
<line x1="636.34" y1="352" x2="636.34" y2="348.4" stroke="#1a1a1a" stroke-width="1"/>
<line x1="668.41" y1="352" x2="668.41" y2="348.4" stroke="#1a1a1a" stroke-width="1"/>
<text x="540.11" y="363.65" text-anchor="middle" font-size="10">0</text>
<text x="572.19" y="363.65" text-anchor="middle" font-size="10">10</text>
<text x="604.26" y="363.65" text-anchor="middle" font-size="10">20</text>
<text x="636.34" y="363.65" text-anchor="middle" font-size="10">30</text>
<text x="668.41" y="363.65" text-anchor="middle" font-size="10">40</text>
<text x="599.45" y="378" text-anchor="middle" font-size="9.9">Distance (mm)</text>
<text transform="translate(489.2,278.73) rotate(-90)" text-anchor="middle" font-size="9.9">PID signal (norm.)</text>
<text x="505.95" y="198.25" font-size="9.9" font-weight="bold">f</text>
<line x1="540.11" y1="217.6" x2="540.11" y2="352" stroke="#777" stroke-width="2.0" stroke-dasharray="1.9 3.05"/>
<text x="521.0" y="215.7" font-size="9.9">Outlet</text>
<path d="M540.11 226.2 L552.94 256 L565.77 278.5 L578.6 293.2 L591.43 303.9 L604.26 311.7 L617.09 316.2 L629.92 319.5 L642.75 322.1 L655.58 323.8 L668.41 325.1" fill="none" stroke="#000" stroke-width="1.4" stroke-linejoin="round"/>
<path d="M537.51 226h5.2" stroke="#000" stroke-width="1.6"/>
<circle cx="540.11" cy="226" r="1.15"/>
<path d="M550.34 250.2h5.2" stroke="#000" stroke-width="1.6"/>
<circle cx="552.94" cy="250.2" r="1.15"/>
<path d="M563.17 285.6h5.2" stroke="#000" stroke-width="1.6"/>
<circle cx="565.77" cy="285.6" r="1.15"/>
<path d="M576 293.1h5.2" stroke="#000" stroke-width="1.6"/>
<circle cx="578.6" cy="293.1" r="1.15"/>
<path d="M588.83 302.5h5.2" stroke="#000" stroke-width="1.6"/>
<circle cx="591.43" cy="302.5" r="1.15"/>
<path d="M601.66 312.1h5.2" stroke="#000" stroke-width="1.6"/>
<circle cx="604.26" cy="312.1" r="1.15"/>
<path d="M614.49 315.8h5.2" stroke="#000" stroke-width="1.6"/>
<circle cx="617.09" cy="315.8" r="1.15"/>
<path d="M627.32 316.9h5.2" stroke="#000" stroke-width="1.6"/>
<circle cx="629.92" cy="316.9" r="1.15"/>
<path d="M640.15 322.1h5.2" stroke="#000" stroke-width="1.6"/>
<circle cx="642.75" cy="322.1" r="1.15"/>
<path d="M652.98 323.8h5.2" stroke="#000" stroke-width="1.6"/>
<circle cx="655.58" cy="323.8" r="1.15"/>
<path d="M665.81 327.1h5.2" stroke="#000" stroke-width="1.6"/>
<circle cx="668.41" cy="327.1" r="1.15"/>
<rect x="38.1" y="396.5" width="170" height="146.55" fill="none" stroke="#1a1a1a" stroke-width="1.35"/>
<line x1="38.1" y1="522.2" x2="41.4" y2="522.2" stroke="#1a1a1a" stroke-width="1"/>
<text x="33.9" y="525.25" text-anchor="end" font-size="10">0.0</text>
<line x1="38.1" y1="501.2" x2="41.4" y2="501.2" stroke="#1a1a1a" stroke-width="1"/>
<text x="33.9" y="504.25" text-anchor="end" font-size="10">0.2</text>
<line x1="38.1" y1="480.2" x2="41.4" y2="480.2" stroke="#1a1a1a" stroke-width="1"/>
<text x="33.9" y="483.25" text-anchor="end" font-size="10">0.4</text>
<line x1="38.1" y1="459.2" x2="41.4" y2="459.2" stroke="#1a1a1a" stroke-width="1"/>
<text x="33.9" y="462.25" text-anchor="end" font-size="10">0.6</text>
<line x1="38.1" y1="438.2" x2="41.4" y2="438.2" stroke="#1a1a1a" stroke-width="1"/>
<text x="33.9" y="441.25" text-anchor="end" font-size="10">0.8</text>
<line x1="38.1" y1="417.2" x2="41.4" y2="417.2" stroke="#1a1a1a" stroke-width="1"/>
<text x="33.9" y="420.25" text-anchor="end" font-size="10">1.0</text>
<line x1="57.72" y1="543.05" x2="57.72" y2="539.45" stroke="#1a1a1a" stroke-width="1"/>
<line x1="90.41" y1="543.05" x2="90.41" y2="539.45" stroke="#1a1a1a" stroke-width="1"/>
<line x1="123.1" y1="543.05" x2="123.1" y2="539.45" stroke="#1a1a1a" stroke-width="1"/>
<line x1="155.79" y1="543.05" x2="155.79" y2="539.45" stroke="#1a1a1a" stroke-width="1"/>
<line x1="188.48" y1="543.05" x2="188.48" y2="539.45" stroke="#1a1a1a" stroke-width="1"/>
<text x="57.72" y="554.7" text-anchor="middle" font-size="10">−100</text>
<text x="90.41" y="554.7" text-anchor="middle" font-size="10">−50</text>
<text x="123.1" y="554.7" text-anchor="middle" font-size="10">0</text>
<text x="155.79" y="554.7" text-anchor="middle" font-size="10">50</text>
<text x="188.48" y="554.7" text-anchor="middle" font-size="10">100</text>
<text x="123.1" y="569.05" text-anchor="middle" font-size="9.9">Distance (mm)</text>
<text transform="translate(12.85,469.77) rotate(-90)" text-anchor="middle" font-size="9.9">PID signal (norm.)</text>
<text x="29.6" y="389.3" font-size="9.9" font-weight="bold">g</text>
<line x1="123.1" y1="408" x2="123.1" y2="543.05" stroke="#777" stroke-width="2.0" stroke-dasharray="1.9 3.05"/>
<text x="116.2" y="406.9" text-anchor="middle" font-size="9.9">Flow center</text>
<path d="M57.72 522.19 L64.25 522.16 L70.79 521.99 L77.33 521.3 L83.87 519 L90.41 512.8 L96.95 499.51 L103.48 477.17 L110.02 448.74 L116.56 423.66 L123.1 413.52 L129.64 423.66 L136.18 448.74 L142.72 477.17 L149.25 499.51 L155.79 512.8 L162.33 519 L168.87 521.3 L175.41 521.99 L181.95 522.16 L188.48 522.19" fill="none" stroke="#000" stroke-width="1.4" stroke-linejoin="round"/>
<path d="M55.12 521.99h5.2" stroke="#000" stroke-width="1.6"/>
<circle cx="57.72" cy="521.99" r="1.15"/>
<path d="M61.65 522.2h5.2" stroke="#000" stroke-width="1.6"/>
<circle cx="64.25" cy="522.2" r="1.15"/>
<path d="M68.19 522.2h5.2" stroke="#000" stroke-width="1.6"/>
<circle cx="70.79" cy="522.2" r="1.15"/>
<path d="M74.73 520.94h5.2" stroke="#000" stroke-width="1.6"/>
<circle cx="77.33" cy="520.94" r="1.15"/>
<path d="M81.27 516.11h5.2" stroke="#000" stroke-width="1.6"/>
<circle cx="83.87" cy="516.11" r="1.15"/>
<path d="M87.81 512.33h5.2" stroke="#000" stroke-width="1.6"/>
<circle cx="90.41" cy="512.33" r="1.15"/>
<path d="M94.35 494.38h5.2" stroke="#000" stroke-width="1.6"/>
<circle cx="96.95" cy="494.38" r="1.15"/>
<path d="M100.88 480.31h5.2" stroke="#000" stroke-width="1.6"/>
<circle cx="103.48" cy="480.31" r="1.15"/>
<path d="M107.42 443.13h5.2" stroke="#000" stroke-width="1.6"/>
<circle cx="110.02" cy="443.13" r="1.15"/>
<path d="M113.96 421.5h5.2" stroke="#000" stroke-width="1.6"/>
<circle cx="116.56" cy="421.5" r="1.15"/>
<path d="M120.5 417.2h5.2" stroke="#000" stroke-width="1.6"/>
<circle cx="123.1" cy="417.2" r="1.15"/>
<path d="M127.04 422.87h5.2" stroke="#000" stroke-width="1.6"/>
<circle cx="129.64" cy="422.87" r="1.15"/>
<path d="M133.58 439.77h5.2" stroke="#000" stroke-width="1.6"/>
<circle cx="136.18" cy="439.77" r="1.15"/>
<path d="M140.12 475.27h5.2" stroke="#000" stroke-width="1.6"/>
<circle cx="142.72" cy="475.27" r="1.15"/>
<path d="M146.65 498.37h5.2" stroke="#000" stroke-width="1.6"/>
<circle cx="149.25" cy="498.37" r="1.15"/>
<path d="M153.19 513.38h5.2" stroke="#000" stroke-width="1.6"/>
<circle cx="155.79" cy="513.38" r="1.15"/>
<path d="M159.73 516.11h5.2" stroke="#000" stroke-width="1.6"/>
<circle cx="162.33" cy="516.11" r="1.15"/>
<path d="M166.27 520.52h5.2" stroke="#000" stroke-width="1.6"/>
<circle cx="168.87" cy="520.52" r="1.15"/>
<path d="M172.81 522.2h5.2" stroke="#000" stroke-width="1.6"/>
<circle cx="175.41" cy="522.2" r="1.15"/>
<path d="M179.35 521.99h5.2" stroke="#000" stroke-width="1.6"/>
<circle cx="181.95" cy="521.99" r="1.15"/>
<path d="M185.88 521.99h5.2" stroke="#000" stroke-width="1.6"/>
<circle cx="188.48" cy="521.99" r="1.15"/>
<rect x="276.25" y="396.5" width="170" height="146.55" fill="none" stroke="#1a1a1a" stroke-width="1.35"/>
<line x1="276.25" y1="518.55" x2="279.55" y2="518.55" stroke="#1a1a1a" stroke-width="1"/>
<text x="272.05" y="521.6" text-anchor="end" font-size="10">1.0</text>
<line x1="276.25" y1="494.09" x2="279.55" y2="494.09" stroke="#1a1a1a" stroke-width="1"/>
<text x="272.05" y="497.14" text-anchor="end" font-size="10">1.5</text>
<line x1="276.25" y1="469.62" x2="279.55" y2="469.62" stroke="#1a1a1a" stroke-width="1"/>
<text x="272.05" y="472.68" text-anchor="end" font-size="10">2.0</text>
<line x1="276.25" y1="445.16" x2="279.55" y2="445.16" stroke="#1a1a1a" stroke-width="1"/>
<text x="272.05" y="448.21" text-anchor="end" font-size="10">2.5</text>
<line x1="276.25" y1="420.7" x2="279.55" y2="420.7" stroke="#1a1a1a" stroke-width="1"/>
<text x="272.05" y="423.75" text-anchor="end" font-size="10">3.0</text>
<line x1="304.58" y1="543.05" x2="304.58" y2="539.45" stroke="#1a1a1a" stroke-width="1"/>
<line x1="345.06" y1="543.05" x2="345.06" y2="539.45" stroke="#1a1a1a" stroke-width="1"/>
<line x1="385.54" y1="543.05" x2="385.54" y2="539.45" stroke="#1a1a1a" stroke-width="1"/>
<line x1="426.01" y1="543.05" x2="426.01" y2="539.45" stroke="#1a1a1a" stroke-width="1"/>
<text x="304.58" y="554.7" text-anchor="middle" font-size="10">15</text>
<text x="345.06" y="554.7" text-anchor="middle" font-size="10">25</text>
<text x="385.54" y="554.7" text-anchor="middle" font-size="10">35</text>
<text x="426.01" y="554.7" text-anchor="middle" font-size="10">45</text>
<text x="361.25" y="569.05" text-anchor="middle" font-size="9.9">Temperature (°C)</text>
<text transform="translate(251,469.77) rotate(-90)" text-anchor="middle" font-size="9.9">PID signal (norm.)</text>
<text x="267.75" y="389.3" font-size="9.9" font-weight="bold">h</text>
<line x1="304.5" y1="518.0" x2="406.5" y2="410.3" stroke="#000" stroke-width="1.4"/>
<path d="M304.58 518.45V517.47" stroke="#000" stroke-width="1.5"/>
<path d="M302.08 518.45h5M302.08 517.47h5" stroke="#000" stroke-width="1.6"/>
<path d="M324.82 503.73V500.3" stroke="#000" stroke-width="1.5"/>
<path d="M322.32 503.73h5M322.32 500.3h5" stroke="#000" stroke-width="1.6"/>
<path d="M345.06 473.39V472.41" stroke="#000" stroke-width="1.5"/>
<path d="M342.56 473.39h5M342.56 472.41h5" stroke="#000" stroke-width="1.6"/>
<path d="M365.3 448.44V447.27" stroke="#000" stroke-width="1.5"/>
<path d="M362.8 448.44h5M362.8 447.27h5" stroke="#000" stroke-width="1.6"/>
<path d="M385.54 433.52V432.54" stroke="#000" stroke-width="1.5"/>
<path d="M383.04 433.52h5M383.04 432.54h5" stroke="#000" stroke-width="1.6"/>
<path d="M405.77 416V415.02" stroke="#000" stroke-width="1.5"/>
<path d="M403.27 416h5M403.27 415.02h5" stroke="#000" stroke-width="1.6"/>
</svg></body></html>
